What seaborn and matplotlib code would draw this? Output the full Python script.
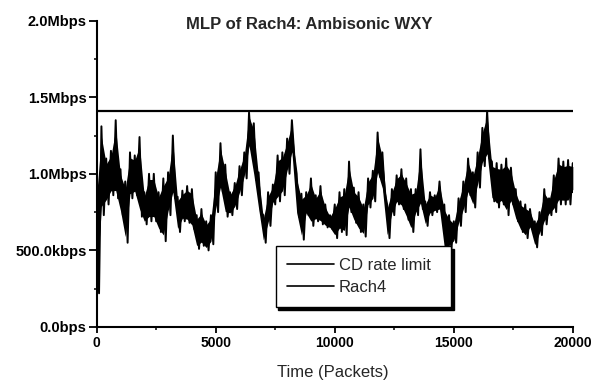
import matplotlib
matplotlib.use("Agg")
import matplotlib.pyplot as plt
from matplotlib.lines import Line2D
from matplotlib.ticker import MultipleLocator
import numpy as np
import pandas as pd
import seaborn as sns

# ---- data ----
packets = list(range(0, 20001, 200))
rach4_hi = [0.95, 1.31, 1.10, 1.15, 1.35, 1.03, 0.95, 1.14, 1.12, 1.24,
            0.88, 1.00, 1.00, 0.88, 0.97, 1.01, 1.25, 0.85, 0.89, 0.92,
            0.90, 0.73, 0.77, 0.69, 0.73, 1.01, 1.20, 1.06, 0.88, 0.94,
            1.05, 1.14, 1.40, 1.33, 1.01, 0.73, 0.88, 0.93, 1.12, 1.14,
            1.23, 1.35, 1.00, 0.87, 0.88, 0.97, 0.86, 0.92, 0.80, 0.73,
            0.80, 0.88, 0.90, 1.08, 0.91, 0.88, 0.80, 0.97, 1.02, 1.27,
            1.14, 0.80, 0.90, 0.99, 1.03, 0.97, 0.90, 0.90, 1.16, 0.82,
            0.88, 0.86, 0.95, 0.80, 0.73, 0.69, 0.84, 0.95, 1.10, 1.01,
            1.14, 1.30, 1.41, 1.08, 1.07, 1.06, 1.10, 1.04, 0.90, 0.82,
            0.80, 0.77, 0.69, 0.75, 0.90, 0.84, 0.99, 1.10, 1.08, 1.09,
            1.07]
rach4_lo = [0.22, 0.73, 0.80, 0.86, 0.84, 0.73, 0.55, 0.84, 0.86, 0.72,
            0.67, 0.69, 0.69, 0.62, 0.56, 0.73, 0.84, 0.62, 0.69, 0.68,
            0.64, 0.51, 0.53, 0.50, 0.54, 0.75, 0.88, 0.72, 0.73, 0.77,
            0.86, 0.97, 1.16, 0.96, 0.75, 0.55, 0.66, 0.80, 0.82, 0.86,
            1.00, 1.12, 0.72, 0.57, 0.73, 0.66, 0.69, 0.67, 0.65, 0.64,
            0.58, 0.62, 0.60, 0.75, 0.68, 0.62, 0.59, 0.78, 0.82, 0.98,
            0.88, 0.58, 0.73, 0.80, 0.77, 0.70, 0.62, 0.73, 0.77, 0.66,
            0.73, 0.75, 0.75, 0.49, 0.51, 0.55, 0.66, 0.75, 0.86, 0.78,
            0.91, 1.05, 1.10, 0.82, 0.78, 0.80, 0.73, 0.80, 0.69, 0.62,
            0.58, 0.64, 0.52, 0.60, 0.67, 0.73, 0.75, 0.80, 0.80, 0.80,
            0.88]
cd_rate_limit = 1.4112          # Mbps
x_range = [0, 20000]
x_ticks = [0, 5000, 10000, 15000, 20000]
y_ticks = [0.0, 0.5, 1.0, 1.5, 2.0]
y_tick_labels = ["0.0bps", "500.0kbps", "1.0Mbps", "1.5Mbps", "2.0Mbps"]
title = "MLP of Rach4: Ambisonic WXY"
x_label = "Time (Packets)"
legend_labels = ["CD rate limit", "Rach4"]

# ---- style ----
sns.set_style("ticks")
plt.rcParams["font.family"] = ["Liberation Sans", "DejaVu Sans"]

fig = plt.figure(figsize=(5.93, 3.82), dpi=100)
ax = fig.add_axes([0.163, 0.144, 0.803, 0.802])

# interleave the upper/lower envelope readings into one jagged trace
t, r = [], []
for p, h, l in zip(packets, rach4_hi, rach4_lo):
    t += [p, min(p + 100, x_range[1])]
    r += [h, l]
df = pd.DataFrame({"Time": t, "Rate": r})
cd = pd.DataFrame({"Time": x_range, "Rate": [cd_rate_limit] * 2})

hi = np.array(rach4_hi)
lo = np.array(rach4_lo)
span = hi - lo
# dense core of the noisy trace (drawn as a band between the envelopes)
ax.fill_between(packets, lo + 0.1 * span, hi - 0.12 * span,
                color="black", lw=0)
sns.lineplot(data=df, x="Time", y="Rate", sort=False, estimator=None,
             color="black", lw=1.4, ax=ax)
sns.lineplot(data=cd, x="Time", y="Rate", color="black", lw=1.6, ax=ax)

ax.set_xlim(x_range)
ax.set_ylim(y_ticks[0], y_ticks[-1])
ax.set_xticks(x_ticks)
ax.set_xticklabels([str(v) for v in x_ticks], fontweight="bold", fontsize=10)
ax.set_yticks(y_ticks)
ax.set_yticklabels(y_tick_labels, fontweight="bold", fontsize=10.5)
ax.xaxis.set_minor_locator(MultipleLocator(2500))
ax.yaxis.set_minor_locator(MultipleLocator(0.25))
ax.set_xlabel("")
ax.set_ylabel("")

for s in ["top", "right"]:
    ax.spines[s].set_visible(False)
for s in ["left", "bottom"]:
    ax.spines[s].set_linewidth(1.5)
    ax.spines[s].set_color("black")

ax.tick_params(axis="y", which="major", direction="out", length=6, width=1.3,
               pad=1.2, colors="black")
ax.tick_params(axis="x", which="major", direction="out", length=4, width=1.3,
               pad=2.5, colors="black")
ax.tick_params(which="minor", direction="out", length=2.5, width=1.1,
               colors="black")

fig.text(309.7 / 593, 1 - 29.3 / 382, title, fontsize=12, fontweight="bold",
         ha="center", va="baseline")
fig.text(333 / 593, 1 - 376.5 / 382, x_label, fontsize=12,
         ha="center", va="baseline")

handles = [Line2D([], [], color="black", lw=1.2),
           Line2D([], [], color="black", lw=1.2)]
leg = ax.legend(handles, legend_labels, loc="lower left",
                bbox_to_anchor=(0.376, 0.066, 0.369, 0.2), mode="expand",
                borderaxespad=0,
                fontsize=12, frameon=True, fancybox=False,
                shadow={"color": "black", "alpha": 1},
                handlelength=2.8, handletextpad=0.3, labelspacing=0.45,
                borderpad=0.7)
leg.get_frame().set_edgecolor("black")
leg.get_frame().set_linewidth(1.0)
leg.get_frame().set_alpha(1)

fig.savefig("out.png", dpi=100)
